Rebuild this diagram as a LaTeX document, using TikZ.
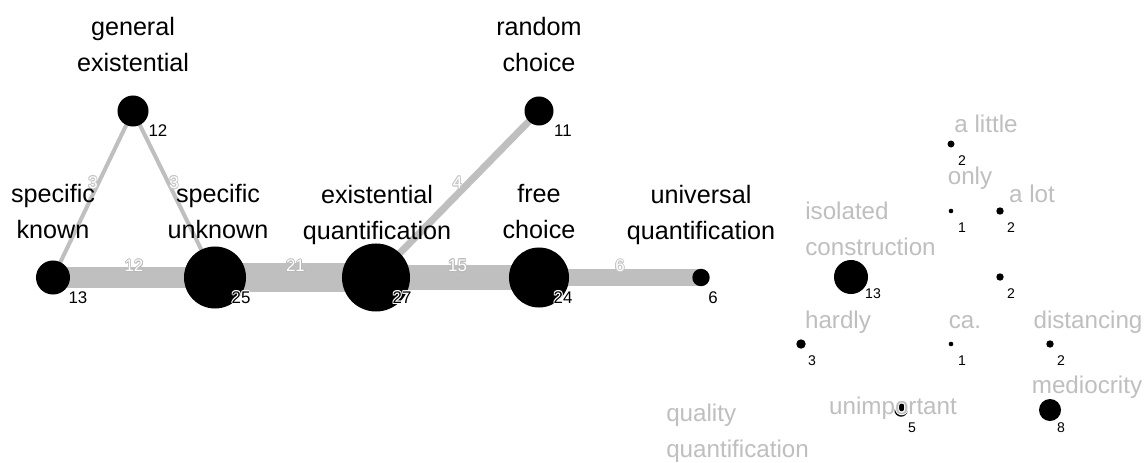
\documentclass[tikz,border=0pt]{standalone}
\usepackage{fontspec}
\setmainfont{Liberation Sans}
\usetikzlibrary{positioning,calc,backgrounds}

% text with a thin outline of copies in colour #1
\newcommand{\halo}[2][white]{%
  \leavevmode\begingroup
  \def\hcopy##1##2{\rlap{\kern##1\raisebox{##2}{\textcolor{#1}{#2}}}}%
  \hcopy{-0.6pt}{0pt}\hcopy{0.6pt}{0pt}\hcopy{0pt}{0.6pt}\hcopy{0pt}{-0.6pt}%
  \hcopy{-0.45pt}{-0.45pt}\hcopy{0.45pt}{0.45pt}\hcopy{-0.45pt}{0.45pt}\hcopy{0.45pt}{-0.45pt}%
  #2\endgroup}

\tikzset{
  vert/.style={circle, fill=black, inner sep=0pt},
  biglab/.style={font=\fontsize{17.9}{25.6}\selectfont, align=center, inner sep=0pt},
  faintlab/.style={font=\fontsize{17.2}{25.6}\selectfont, text=gray!50, align=left, inner sep=0pt},
  count/.style={font=\fontsize{12}{14}\selectfont, inner sep=0pt},
  smallcount/.style={font=\fontsize{10}{12}\selectfont, inner sep=0pt},
  tie/.style={draw=gray!50},
  weight/.style={font=\fontsize{12}{14}\selectfont, text=white, inner sep=0pt, midway, yshift=0.29cm},
}

\begin{document}
\begin{tikzpicture}[x=0.025cm, y=-0.025cm]
  % Vertices of the main network
  \node[vert, minimum size=0.775cm] (gexist) at (133,111) {};
  \node[vert, minimum size=0.85cm] (spknown) at (53,277.5) {};
  \node[vert, minimum size=1.55cm] (spunknown) at (215,277.5) {};
  \node[vert, minimum size=1.7cm] (exquant) at (376,277.5) {};
  \node[vert, minimum size=1.5cm] (freech) at (539,277.5) {};
  \node[vert, minimum size=0.725cm] (randch) at (539,111) {};
  \node[vert, minimum size=0.435cm] (univq) at (701,277.5) {};

  % Ties, weighted by line width
  \begin{scope}[on background layer]
    \fill[white] (0,0) rectangle (1146,461);
    \draw[tie, line width=2.85pt] (spknown.center) -- (gexist.center) node[weight] {\halo[gray!45]{3}};
    \draw[tie, line width=2.85pt] (gexist.center) -- (spunknown.center) node[weight] {\halo[gray!45]{3}};
    \draw[tie, line width=15.4pt] (spknown.center) -- (spunknown.center) node[weight] {\halo[gray!55]{12}};
    \draw[tie, line width=20.6pt] (spunknown.center) -- (exquant.center) node[weight] {\halo[gray!55]{21}};
    \draw[tie, line width=5pt] (exquant.center) -- (randch.center) node[weight] {\halo[gray!45]{4}};
    \draw[tie, line width=17.8pt] (exquant.center) -- (freech.center) node[weight] {\halo[gray!55]{15}};
    \draw[tie, line width=11.9pt] (freech.center) -- (univq.center) node[weight] {\halo[gray!45]{6}};
  \end{scope}

  % Labels of the main network
  \node[biglab] (gexistlab) at ($(gexist)+(0,-66)$) {general\\existential};
  \node[biglab] (spknownlab) at ($(spknown)+(0,-66)$) {specific\\known};
  \node[biglab] (spunknownlab) at ($(spunknown)+(3,-66)$) {specific\\unknown};
  \node[biglab] (exquantlab) at ($(exquant)+(1,-63)$) {existential\\quantification};
  \node[biglab] (freechlab) at ($(freech)+(0,-66)$) {free\\choice};
  \node[biglab] (randchlab) at ($(randch)+(0,-66)$) {random\\choice};
  \node[biglab] (univqlab) at ($(univq)+(0,-63)$) {universal\\quantification};

  % Counts
  \node[count] at ($(gexist)+(25,20)$) {\halo{12}};
  \node[count] at ($(spknown)+(25,20)$) {\halo{13}};
  \node[count] at ($(spunknown)+(26,20)$) {\halo{25}};
  \node[count] at ($(exquant)+(26,20)$) {\halo{27}};
  \node[count] at ($(freech)+(24,20)$) {\halo{24}};
  \node[count] at ($(randch)+(24,20)$) {\halo{11}};
  \node[count] at ($(univq)+(12,20)$) {\halo{6}};

  % Isolated vertices
  \node[vert, minimum size=0.175cm] (alittle) at (951,144) {};
  \node[vert, minimum size=0.115cm] (only) at (951,211) {};
  \node[vert, minimum size=0.185cm] (alot) at (1000,211) {};
  \node[vert, minimum size=0.85cm] (isoc) at (851,277) {};
  \node[vert, minimum size=0.185cm] (blank) at (1000,277) {};
  \node[vert, minimum size=0.235cm] (hardly) at (801,344) {};
  \node[vert, minimum size=0.115cm] (ca) at (951,344) {};
  \node[vert, minimum size=0.185cm] (distancing) at (1050,344) {};
  \node[vert, minimum size=0.55cm] (mediocrity) at (1050,410) {};
  \node[vert, minimum size=0.335cm] (unimportant) at (901,410) {};

  \node[faintlab] (alittlelab) at (986,124) {a little};
  \node[faintlab] (onlylab) at (970,178) {only};
  \node[faintlab] (alotlab) at (1032,194) {a lot};
  \node[faintlab, anchor=west] (isoclab) at (805,229) {isolated\\construction};
  \node[faintlab] (hardlylab) at (838,322) {hardly};
  \node[faintlab] (calab) at (965,322) {ca.};
  \node[faintlab] (distancinglab) at (1088,322) {distancing};
  \node[faintlab] (mediocritylab) at (1087,387) {mediocrity};
  \node[faintlab] (unimportantlab) at (893,408) {\halo{unimportant}};
  \node[faintlab, anchor=west] (qualquantlab) at (666,433) {quality\\quantification};

  \node[smallcount] at ($(alittle)+(11,17)$) {2};
  \node[smallcount] at ($(only)+(11,17)$) {1};
  \node[smallcount] at ($(alot)+(11,17)$) {2};
  \node[smallcount] at ($(isoc)+(22,17)$) {\halo{13}};
  \node[smallcount] at ($(blank)+(11,17)$) {2};
  \node[smallcount] at ($(hardly)+(11,17)$) {3};
  \node[smallcount] at ($(ca)+(11,17)$) {1};
  \node[smallcount] at ($(distancing)+(11,17)$) {2};
  \node[smallcount] at ($(mediocrity)+(11,18)$) {\halo{8}};
  \node[smallcount] at ($(unimportant)+(11,18)$) {\halo{5}};
\end{tikzpicture}
\end{document}
